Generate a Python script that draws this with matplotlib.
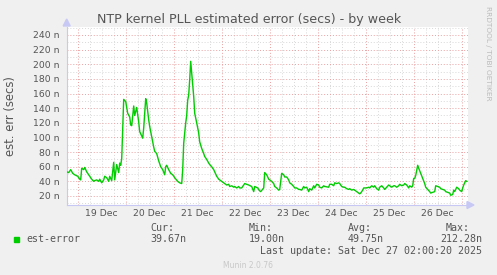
import numpy as np
import matplotlib
matplotlib.use("Agg")
import matplotlib.pyplot as plt
from matplotlib.ticker import FixedLocator, FuncFormatter

# hours since 18 Dec 00:00, values in ns
hours = [
    18.5, 19.5, 20.5, 21.5, 22.5, 24, 25, 25.5, 26, 27, 27.5, 28.5, 29.5, 30, 31, 32, 32.5,
    33.5, 34.5, 35, 36, 37, 37.5, 38.5, 39.5, 40, 41, 42, 42.5, 43.5, 44.5, 45, 45.5, 46,
    47, 48, 49, 50, 50.5, 51, 52, 52.5, 53.5, 54.5, 55, 56.5, 57, 58, 58.5, 59.5, 60, 61,
    62, 62.5, 63.5, 64.5, 65.5, 66.5, 67.5, 68, 68.5, 69.5, 70.5, 71.5, 72.5, 74, 75, 76,
    76.5, 77, 78, 78.5, 79, 79.5, 80, 80.5, 81, 82, 82.5, 83.5, 84.5, 85, 86, 87, 87.5,
    88.5, 89.5, 90, 91, 92, 92.5, 93.5, 94.5, 95, 96, 97, 97.5, 98.5, 99.5, 100, 101, 102,
    102.5, 103.5, 104.5, 105, 106, 107.5, 109.5, 111, 112, 112.5, 114, 115, 115.5, 117,
    117.5, 118.5, 119.5, 120, 121, 122, 122.5, 123.5, 124.5, 125, 126, 127, 127.5, 128.5,
    129.5, 130, 131, 132, 132.5, 133.5, 134.5, 135, 136, 137, 137.5, 138.5, 139.5, 140,
    141, 142, 142.5, 143.5, 144.5, 145, 146, 147, 147.5, 149.5, 150, 151, 152, 152.5,
    153.5, 154.5, 155, 156, 157, 157.5, 158.5, 159.5, 160, 161, 162, 162.5, 163.5, 164.5,
    165, 165.5, 166.5, 167, 167.5, 168.5, 169.5, 170, 171, 172, 172.5, 173.5, 174.5, 175,
    176, 177, 177.5, 178.5, 179.5, 180, 181, 182, 182.5, 183.5, 184.5, 185, 186, 187,
    187.5, 188.5, 189.5, 190, 191, 191.5, 192, 192.5, 193, 194, 194.5, 195.5, 196.5, 197.5,
    198, 199, 200, 200.5, 201.5, 202.5, 203, 204, 205, 205.5, 206.5, 207.5, 208, 209, 210,
    210.5, 211.5, 212, 212.5, 213.5, 214.5, 215, 216, 216.5, 217, 218, 218.5,
]
est_error = [
    53, 52, 56, 51, 49, 47, 43, 42, 58, 56, 59, 53, 49, 47, 43, 40, 41,
    42, 40, 43, 38, 42, 47, 45, 40, 47, 41, 66, 42, 63, 52, 65, 62, 71,
    152, 149, 133, 128, 117, 116, 143, 130, 141, 121, 108, 99, 113, 153, 147, 124, 115, 101,
    87, 81, 78, 68, 60, 56, 49, 60, 62, 56, 51, 49, 45, 40, 38, 37,
    56, 92, 120, 130, 151, 158, 179, 204, 188, 156, 133, 120, 106, 94, 85, 78, 74,
    70, 65, 63, 60, 56, 53, 47, 43, 42, 40, 38, 37, 35, 36, 33, 34, 32,
    33, 31, 33, 31, 31, 37, 35, 33, 26, 33, 31, 27, 26, 31,
    52, 49, 43, 42, 40, 37, 33, 31, 28, 29, 51, 49, 46, 46,
    42, 38, 36, 33, 31, 31, 29, 29, 28, 33, 31, 32, 26, 30,
    28, 34, 31, 36, 35, 32, 31, 34, 33, 32, 36, 36, 34, 38,
    37, 38, 37, 33, 32, 32, 30, 29, 30, 28, 29, 28, 26, 24,
    23, 24, 28, 31, 31, 31, 32, 31, 34, 32, 34, 30, 28, 32,
    34, 31, 29, 32, 35, 34, 32, 34, 34, 32, 34, 36, 34, 35,
    37, 35, 31, 34, 32, 34, 44, 44, 48, 62, 58, 51, 44, 37,
    32, 29, 26, 24, 25, 26, 34, 33, 32, 30, 29, 28, 26, 25, 24,
    21, 22, 28, 26, 32, 30, 28, 26, 31, 35, 41, 40,
]
day_labels = ["19 Dec", "20 Dec", "21 Dec", "22 Dec", "23 Dec", "24 Dec", "25 Dec", "26 Dec"]
legend_stats = {"Cur:": "39.67n", "Min:": "19.00n", "Avg:": "49.75n", "Max:": "212.28n"}

W, H = 497, 275
BG = "#F0F0F0"
TXT = "#555555"
GREEN = "#00CC00"
AXIS = "#C8C8F5"


def px(x, y):
    return x / W, 1 - y / H


fig = plt.figure(figsize=(W / 100, H / 100), dpi=100, facecolor=BG)
x0, x1, y0, y1 = 66.7, 467.7, 26.7, 205
ax = fig.add_axes([x0 / W, 1 - y1 / H, (x1 - x0) / W, (y1 - y0) / H])
ax.set_facecolor("white")

ax.plot(hours, est_error, color=GREEN, lw=1.0, zorder=3)
ax.set_xlim(18.5, 219)
ax.set_ylim(7.7, 251.3)

# grid: red at majors, gray dotted at minors
ax.yaxis.set_major_locator(FixedLocator(np.arange(20, 241, 20)))
ax.yaxis.set_minor_locator(FixedLocator(np.arange(10, 251, 10)))
ax.yaxis.set_major_formatter(FuncFormatter(lambda v, p: f"{int(v)} n"))
ax.xaxis.set_major_locator(FixedLocator(np.arange(24, 217, 24)))
ax.xaxis.set_minor_locator(FixedLocator(np.arange(24, 219, 6)))
ax.xaxis.set_major_formatter(FuncFormatter(lambda v, p: ""))
ax.xaxis.set_minor_formatter(FuncFormatter(
    lambda v, p: day_labels[int(v // 24) - 1] if v % 24 == 12 else ""))

ax.grid(which="minor", color="#D8D8D8", lw=0.7, linestyle=(0, (1, 2)))
ax.grid(which="major", color="#EBA0A0", lw=0.7, linestyle=(0, (1, 2)))
ax.set_axisbelow(True)

ax.tick_params(axis="y", which="both", length=0, pad=5, labelsize=6.7, labelcolor=TXT)
ax.tick_params(axis="x", which="both", length=0, pad=3, labelsize=6.7, labelcolor=TXT)

for s in ["top", "right"]:
    ax.spines[s].set_visible(False)
ax.spines["left"].set_color(AXIS)
ax.spines["bottom"].set_color(AXIS)
ax.spines["left"].set_linewidth(0.8)
ax.spines["bottom"].set_linewidth(0.8)

# axis arrows
fig.patches.append(plt.Polygon([px(467, 201.5), px(467, 208.5), px(474, 205)],
                               closed=True, color=AXIS, transform=fig.transFigure))
fig.patches.append(plt.Polygon([px(63.2, 26), px(70.2, 26), px(66.7, 19)],
                               closed=True, color=AXIS, transform=fig.transFigure))

fig.text(*px(248.9, 23), "NTP kernel PLL estimated error (secs) - by week",
         ha="center", va="baseline", fontsize=9.1, color=TXT)
fig.text(*px(11, 116), "est. err (secs)", rotation=90, ha="center", va="center",
         fontsize=8.4, color=TXT)
fig.text(*px(488, 53), "RRDTOOL / TOBI OETIKER", rotation=270, ha="center", va="center",
         fontsize=5.3, color="#BBBBBB")

mono = dict(family="DejaVu Sans Mono", fontsize=7.2, color=TXT, va="center")
fig.patches.append(plt.Rectangle(px(14, 242.3), 5.3 / W, 5 / H, color=GREEN,
                                 transform=fig.transFigure))
fig.text(*px(26.7, 239), "est-error", **mono)
stat_x = {"Cur:": 150, "Min:": 249, "Avg:": 347.7}
for k, v in legend_stats.items():
    if k == "Max:":
        fig.text(*px(470, 227.7), k, ha="right", **mono)
        fig.text(*px(482.3, 239), v, ha="right", **mono)
    else:
        fig.text(*px(stat_x[k], 227.7), k, ha="left", **mono)
        fig.text(*px(stat_x[k], 239), v, ha="left", **mono)
fig.text(*px(482.3, 251), "Last update: Sat Dec 27 02:00:20 2025", ha="right", **mono)
fig.text(*px(248, 265), "Munin 2.0.76", ha="center", va="center", fontsize=5.5,
         color="#C8C8C8")

fig.savefig("out.png", dpi=100, facecolor=BG)
